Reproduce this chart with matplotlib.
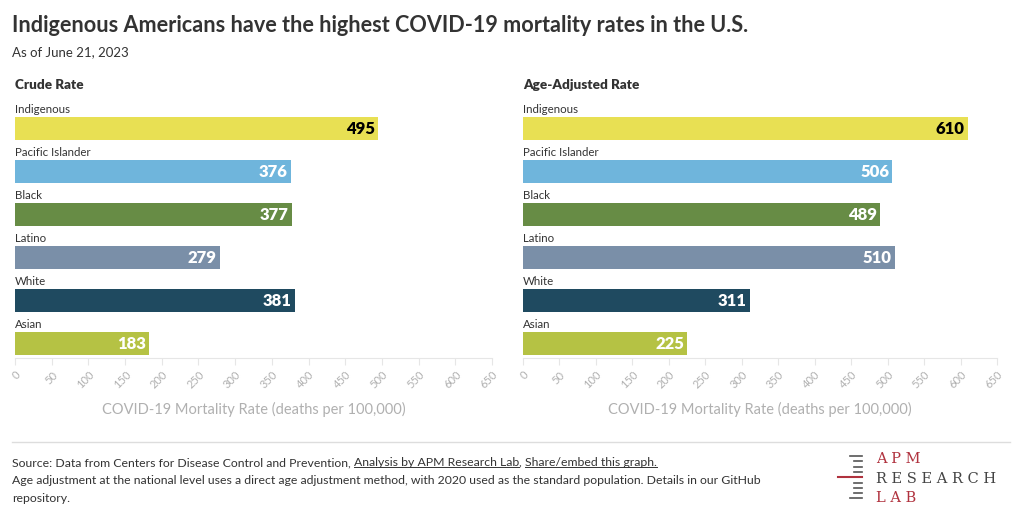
import matplotlib.pyplot as plt

plt.rcParams['font.family'] = ['Lato', 'DejaVu Sans']

groups = ['Indigenous', 'Pacific Islander', 'Black', 'Latino', 'White', 'Asian']
crude = [495, 376, 377, 279, 381, 183]
adjusted = [610, 506, 489, 510, 311, 225]
colors = ['#e8e053', '#6fb5dc', '#678c45', '#7a8fa8', '#1f4a60', '#b5c244']
value_colors = ['black', 'white', 'white', 'white', 'white', 'white']
ticks = list(range(0, 651, 50))

fig = plt.figure(figsize=(10.2, 5.21), dpi=100)

fig.text(12 / 1020, 1 - 25 / 521, 'Indigenous Americans have the highest COVID-19 mortality rates in the U.S.',
         fontsize=15.6, fontweight='bold', color='#333333', va='center')
fig.text(12 / 1020, 1 - 52 / 521, 'As of June 21, 2023', fontsize=9.5, color='#333333', va='center')


def panel(left, width, title, values):
    ax = fig.add_axes([left, 1 - 358 / 521, width, 258 / 521])
    ax.barh(range(len(groups)), values, height=0.535, color=colors)
    ax.set_xlim(0, 650)
    ax.set_ylim(5.337, -0.663)
    for i, (g, v) in enumerate(zip(groups, values)):
        ax.text(0, i - 0.45, g, fontsize=8.3, color='#333333', va='center', ha='left')
        ax.text(v - 4, i + 0.02, str(v), fontsize=12, fontweight='heavy', color=value_colors[i],
                va='center', ha='right')
    ax.set_yticks([])
    ax.set_xticks(ticks)
    ax.set_xticklabels([str(t) for t in ticks], rotation=45, ha='right', fontsize=8, color='#b0b0b0',
                       rotation_mode='anchor')
    ax.tick_params(axis='x', length=5, color='#e6e6e6', pad=3)
    for s in ['top', 'right', 'left']:
        ax.spines[s].set_visible(False)
    ax.spines['bottom'].set_color('#e6e6e6')
    ax.set_xlabel('COVID-19 Mortality Rate (deaths per 100,000)', fontsize=10.5, color='#b0b0b0', labelpad=8)
    fig.text(left, 1 - 85 / 521, title, fontsize=9.7, fontweight='heavy', color='#333333', va='center')
    return ax


panel(15 / 1020, 477 / 1020, 'Crude Rate', crude)
panel(523 / 1020, 474 / 1020, 'Age-Adjusted Rate', adjusted)

# footer
fig.add_artist(plt.Line2D([12 / 1020, 1010 / 1020], [1 - 442 / 521, 1 - 442 / 521], color='#dddddd', lw=1))

fig.canvas.draw()
r = fig.canvas.get_renderer()
x = 12 / 1020
y1 = 1 - 463 / 521
parts = [('Source: Data from Centers for Disease Control and Prevention, ', False),
         ('Analysis by APM Research Lab', True), (', ', False), ('Share/embed this graph.', True)]
for txt, ul in parts:
    t = fig.text(x, y1, txt, fontsize=8.8, color='#333333', va='center')
    bb = t.get_window_extent(r).transformed(fig.transFigure.inverted())
    if ul:
        fig.add_artist(plt.Line2D([bb.x0, bb.x1], [bb.y0 + 0.002, bb.y0 + 0.002], color='#333333', lw=0.7))
    x = bb.x1
fig.text(12 / 1020, 1 - 481 / 521,
         'Age adjustment at the national level uses a direct age adjustment method, with 2020 used as the standard population. Details in our GitHub',
         fontsize=8.8, color='#333333', va='center')
fig.text(12 / 1020, 1 - 498 / 521, 'repository.', fontsize=8.8, color='#333333', va='center')

# logo
red = '#b0323e'
for k in range(9):
    yy = 1 - (456 + k * 5.3) / 521
    x0 = 850 if k in (0, 8) else 854
    fig.add_artist(plt.Line2D([x0 / 1020, 862 / 1020], [yy, yy], color='#555555', lw=1.2))
fig.add_artist(plt.Line2D([838 / 1020, 862 / 1020], [1 - 477 / 521, 1 - 477 / 521], color=red, lw=1.5))
fig.text(876 / 1020, 1 - 459 / 521, 'A P M', family='DejaVu Serif', fontsize=10.5, color=red, va='center')
fig.text(876 / 1020, 1 - 479 / 521, 'R E S E A R C H', family='DejaVu Serif', fontsize=10.5, color='#444444', va='center')
fig.text(876 / 1020, 1 - 498 / 521, 'L A B', family='DejaVu Serif', fontsize=10.5, color=red, va='center')

fig.savefig('out.png', dpi=100)
